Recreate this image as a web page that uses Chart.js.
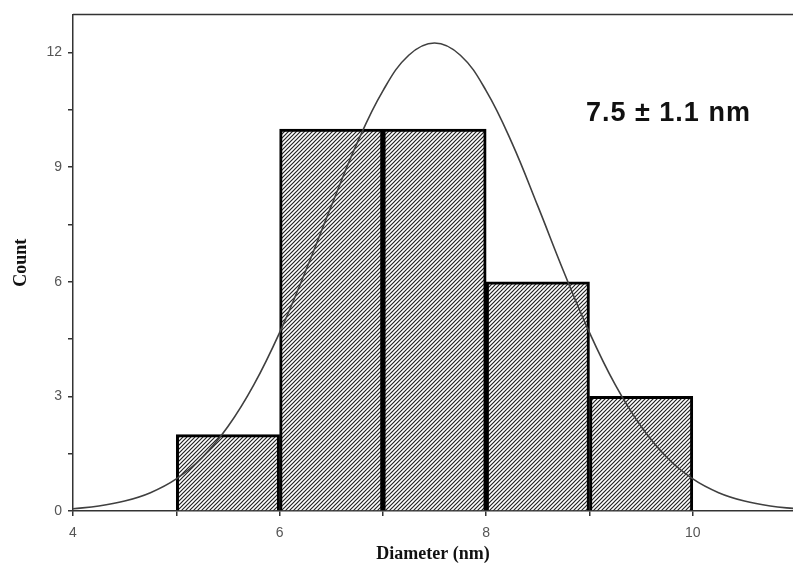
<!DOCTYPE html>
<html>
<head>
<meta charset="utf-8">
<script src="https://cdn.jsdelivr.net/npm/chart.js@4.4.0/dist/chart.umd.min.js"></script>
<style>
  html, body { margin: 0; padding: 0; background: #fff; }
  #wrap { width: 793px; height: 574px; }
</style>
</head>
<body>
<div id="wrap"><canvas id="chartHist"></canvas></div>
<script>
// histogram bins (centre of each 1 nm bin) and counts
const binCentres = [5.5, 6.5, 7.5, 8.5, 9.5]
const counts = [2, 10, 10, 6, 3]

// fitted gaussian
const fitX = [4, 4.25, 4.5, 4.75, 5, 5.25, 5.5, 5.75, 6, 6.25, 6.5, 6.75, 7, 7.25, 7.5,
              7.75, 8, 8.25, 8.5, 8.75, 9, 9.25, 9.5, 9.75, 10, 10.25, 10.5, 10.75, 11]
const fitY = [0.06, 0.13, 0.26, 0.48, 0.84, 1.40, 2.21, 3.30, 4.67, 6.27, 7.98, 9.63, 11.0, 11.93, 12.25,
              11.93, 11.0, 9.63, 7.98, 6.27, 4.67, 3.30, 2.21, 1.40, 0.84, 0.48, 0.26, 0.13, 0.06]

const xTicks = [4, 5, 6, 7, 8, 9, 10]
const yTicks = [0, 1.5, 3, 4.5, 6, 7.5, 9, 10.5, 12]
const fitLabel = '7.5 \u00b1 1.1 nm'

const canvas = document.getElementById('chartHist')
const context = canvas.getContext('2d')

// diagonal hatch for the bars
const makeHatch = () => {
    const s = 4
    const c = document.createElement('canvas')
    c.width = s
    c.height = s
    const g = c.getContext('2d')
    g.fillStyle = '#ffffff'
    g.fillRect(0, 0, s, s)
    g.strokeStyle = '#222'
    g.lineWidth = 1.2
    g.beginPath()
    g.moveTo(-1, s + 1); g.lineTo(s + 1, -1)
    g.moveTo(-1, 1); g.lineTo(1, -1)
    g.moveTo(s - 1, s + 1); g.lineTo(s + 1, s - 1)
    g.stroke()
    return context.createPattern(c, 'repeat')
}

const framePlugin = {
    id: 'frame',
    afterDraw(chart) {
        const { ctx, chartArea } = chart
        ctx.save()
        ctx.strokeStyle = '#333'
        ctx.lineWidth = 1.5
        ctx.beginPath()
        ctx.moveTo(chartArea.left, chartArea.top)
        ctx.lineTo(chartArea.right, chartArea.top)
        ctx.stroke()
        ctx.fillStyle = '#111'
        ctx.font = 'bold 27px "Liberation Sans", Arial, sans-serif'
        ctx.letterSpacing = '1px'
        ctx.textBaseline = 'middle'
        ctx.fillText(fitLabel, 586, 114)
        ctx.restore()
    }
}

const chartHist = new Chart(context, {
    data: {
        datasets: [
            {
                type: 'line',
                label: 'Gaussian fit',
                data: fitX.map((x, i) => ({ x: x, y: fitY[i] })),
                borderColor: '#404040',
                borderWidth: 1.6,
                pointRadius: 0,
                tension: 0.4,
                fill: false,
                order: 0
            },
            {
                type: 'bar',
                label: 'Count',
                data: binCentres.map((x, i) => ({ x: x, y: counts[i] })),
                backgroundColor: makeHatch(),
                borderColor: '#000',
                borderWidth: 3,
                barPercentage: 1,
                categoryPercentage: 1,
                order: 1
            }
        ]
    },
    options: {
        responsive: true,
        maintainAspectRatio: false,
        animation: false,
        layout: { padding: { top: 14, right: 0, left: 0, bottom: 0 } },
        plugins: {
            legend: { display: false },
            tooltip: { enabled: false }
        },
        scales: {
            x: {
                type: 'linear',
                min: 4,
                max: 10.97,
                offset: false,
                afterBuildTicks: (scale) => { scale.ticks = xTicks.map(v => ({ value: v })) },
                afterFit: (scale) => { scale.height = 63 },
                ticks: {
                    autoSkip: false,
                    maxRotation: 0,
                    padding: 9,
                    color: '#555',
                    font: { family: '"Liberation Sans", Arial, sans-serif', size: 14 },
                    callback: (v) => (v % 2 === 0 ? v : '')
                },
                grid: { offset: false, drawOnChartArea: false, tickLength: 5, color: '#333', lineWidth: 1.5 },
                border: { color: '#333', width: 1.5 },
                title: {
                    display: true,
                    text: 'Diameter (nm)',
                    color: '#111',
                    font: { family: '"Liberation Serif", "Times New Roman", serif', size: 18, weight: 'bold' },
                    padding: { top: 0, bottom: 9 }
                }
            },
            y: {
                min: 0,
                max: 13,
                afterBuildTicks: (scale) => { scale.ticks = yTicks.map(v => ({ value: v })) },
                afterFit: (scale) => { scale.width = 73 },
                ticks: {
                    padding: 6,
                    color: '#555',
                    font: { family: '"Liberation Sans", Arial, sans-serif', size: 14 },
                    callback: (v) => (v % 3 === 0 ? v : '')
                },
                grid: { drawOnChartArea: false, tickLength: 5, color: '#333', lineWidth: 1.5 },
                border: { color: '#333', width: 1.5 },
                title: {
                    display: true,
                    text: 'Count',
                    color: '#111',
                    font: { family: '"Liberation Serif", "Times New Roman", serif', size: 18, weight: 'bold' },
                    padding: { top: 11, bottom: 0 }
                }
            }
        }
    },
    plugins: [framePlugin]
});
</script>
</body>
</html>
